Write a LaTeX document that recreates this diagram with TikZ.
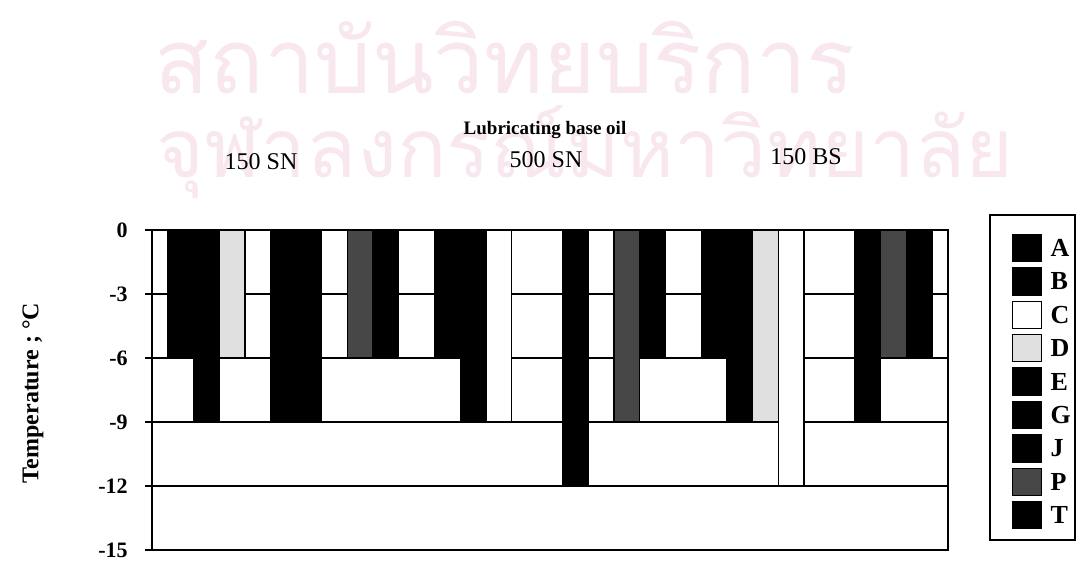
\documentclass[tikz,border=0pt]{standalone}
\usepackage{fontspec}
\setmainfont{Liberation Serif}
\newfontfamily\thaifont[Script=Thai]{Loma}
\usetikzlibrary{positioning}
\definecolor{wmpink}{RGB}{249,231,239}

\begin{document}
\begin{tikzpicture}[
        x=0.5pt, y=-0.5pt,
        grid/.style={line width=0.8pt},
        axisline/.style={line width=1.1pt},
        barblack/.style={fill=black, draw=black, line width=0.7pt},
        barwhite/.style={fill=white, draw=black, line width=0.7pt},
        barlight/.style={fill=black!12, draw=black, line width=0.7pt},
        bardots/.style={fill=black!72, draw=black, line width=0.7pt},
        ticklabel/.style={anchor=east, inner sep=0pt, font=\fontsize{11}{13}\selectfont\bfseries},
        oillabel/.style={inner sep=0pt, font=\fontsize{12}{14}\selectfont},
        swatch/.style={minimum width=14.5pt, minimum height=13.5pt, inner sep=0pt},
        legtext/.style={inner sep=0pt, font=\fontsize{13}{15}\selectfont\bfseries},
        watermark/.style={inner sep=0pt, text=wmpink, font=\thaifont\fontsize{45}{50}\selectfont}
    ]
        \useasboundingbox (0,0) rectangle (1078,569);

        % watermark of the scan
        \node[watermark] (wm-top) at (505,58) {สถาบันวิทยบริการ};
        \node[watermark, font=\thaifont\fontsize{41}{46}\selectfont] (wm-bottom) at (585,152) {จุฬาลงกรณ์มหาวิทยาลัย};

        % titles
        \node[inner sep=0pt, font=\fontsize{9.5}{11}\selectfont\bfseries] (title) at (545,130) {Lubricating base oil};
        \foreach \x/\y/\oil in {
            261/162/150 SN,
            546/160/500 SN,
            806/157/150 BS} {
            \node[oillabel] (oil-\x) at (\x,\y) {\oil};
        }

        % gridlines behind the bars
        \foreach \v in {-3,-6,-9,-12}
            \draw[grid] (152,{230-21.333*\v}) -- (948,{230-21.333*\v});

        % bars: group/slot/value/style
        \foreach \g/\k/\v/\s in {
            0/0/-6/barblack, 0/1/-9/barblack, 0/2/-6/barlight, 0/4/-9/barblack,
            0/5/-9/barblack, 0/7/-6/bardots, 0/8/-6/barblack,
            1/0/-6/barblack, 1/1/-9/barblack, 1/2/-9/barwhite, 1/5/-12/barblack,
            1/7/-9/bardots, 1/8/-6/barblack,
            2/0/-6/barblack, 2/1/-9/barblack, 2/2/-9/barlight, 2/3/-12/barwhite,
            2/6/-9/barblack, 2/7/-6/bardots, 2/8/-6/barblack} {
            \draw[\s] ({168+266.7*\g+25.6*\k},230) rectangle ({168+266.7*\g+25.6*(\k+1)},{230-21.333*\v});
        }

        % frame, ticks and values
        \draw[axisline] (152,230) rectangle (948,550);
        \foreach \v in {0,-3,...,-15} {
            \draw[axisline] (145,{230-21.333*\v}) -- (152,{230-21.333*\v});
            \node[ticklabel] (tick\v) at (128,{230-21.333*\v}) {\v};
        }
        \node[rotate=90, inner sep=0pt, font=\fontsize{12}{14}\selectfont\bfseries] (ytitle) at (33,393) {Temperature ; °C};

        % legend
        \draw[line width=1pt] (990,215) rectangle (1075,540);
        \foreach \i/\l/\s in {
            0/A/barblack, 1/B/barblack, 2/C/barwhite, 3/D/barlight, 4/E/barblack,
            5/G/barblack, 6/J/barblack, 7/P/bardots, 8/T/barblack} {
            \node[swatch, \s] (sw-\l) at (1027,{248+33.4*\i}) {};
            \node[legtext, right=4pt of sw-\l] (leg-\l) {\l};
        }
    \end{tikzpicture}
\end{document}
